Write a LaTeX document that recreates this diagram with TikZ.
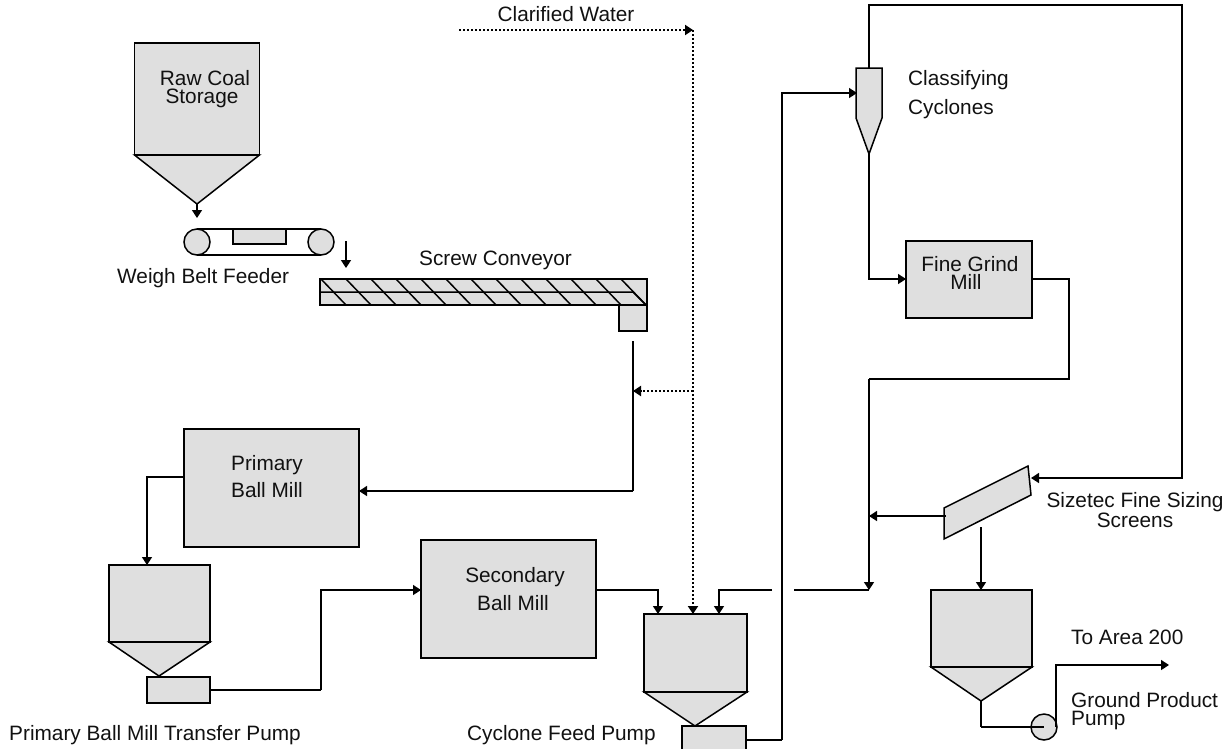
\documentclass[tikz,border=0pt]{standalone}
\usepackage{fontspec}
\setmainfont{Liberation Sans}
\usetikzlibrary{arrows.meta}
\definecolor{equip}{HTML}{DFDFDF}
\definecolor{ink}{HTML}{111111}
\tikzset{
  eq/.style={draw=black,fill=equip,line width=1.5pt,line join=miter},
  box/.style={eq,rectangle,inner sep=0pt,outer sep=0pt},
  flow/.style={draw=black,line width=1.5pt,-{Triangle[length=8pt,width=10pt]}},
  pipe/.style={draw=black,line width=1.5pt},
  dotflow/.style={draw=black,line width=2pt,dash pattern=on 2pt off 2pt,-{Triangle[length=8pt,width=10pt]}},
  lbl/.style={font=\fontsize{20.8}{24}\selectfont,text=ink,inner sep=0pt,anchor=base},
  lblw/.style={lbl,anchor=base west},
  tight/.style={inner sep=0pt,text=ink,align=center,font=\fontsize{20.8}{18}\selectfont,anchor=north},
  tightl/.style={tight,align=left,anchor=north west}
}
\begin{document}
\begin{tikzpicture}[x=1pt,y=-1pt]
\useasboundingbox (0,0) rectangle (1228,748);
\clip (0,0) rectangle (1228,748);
\coordinate (cw0) at (459,30);
\coordinate (cw1) at (693,30);
\coordinate (cwj) at (693,391);
\coordinate (cwb) at (693,614);
\coordinate (sc0) at (633,341);
\coordinate (scj) at (633,391);
\coordinate (sc1) at (633,491);
\coordinate (pb0) at (147,477);
\coordinate (pu0) at (321,690);
\coordinate (pu1) at (321,590);
\coordinate (gap0) at (772,590);
\coordinate (gap1) at (794,590);
\coordinate (join) at (869,590);
\coordinate (cy0) at (782,740);
\coordinate (cy1) at (782,93);
\coordinate (tp0) at (869,5);
\coordinate (tp1) at (1182,5);
\coordinate (tp2) at (1182,478);
\coordinate (fg0) at (1069,279);
\coordinate (fg1) at (1069,379);
\coordinate (fg2) at (869,379);
\coordinate (w0) at (346,241);
\coordinate (w1) at (346,268);
\coordinate (uf) at (869,279);
\coordinate (out0) at (1056,665);
\coordinate (out1) at (1169,665);
\coordinate (hp3a) at (981,727);
\coordinate (s0) at (981,527);
\coordinate (s1) at (946,516);
\coordinate (s2) at (869,516);
\coordinate (sbR) at (719,590);
\coordinate (sbRb) at (719,614);
\coordinate (sbL) at (658,590);
\coordinate (sbLb) at (658,614);

\node[box,minimum width=125pt,minimum height=112pt] (rawbin) at (197,99) {};
\draw[eq] (rawbin.south west) -- (197,204) -- (rawbin.south east) -- cycle;
\coordinate (rawtip) at (197,204);
\draw[flow] (rawtip) -- (197,218);
\draw[pipe] (197,229) -- (321,229) (197,255) -- (321,255);
\node[box,circle,minimum size=26pt] (wl) at (197,242) {};
\node[box,circle,minimum size=26pt] (wr) at (321,242) {};
\node[box,minimum width=53pt,minimum height=15pt] (wblock) at (259.5,236.5) {};
\draw[flow] (w0) -- (w1);
\node[box,minimum width=327pt,minimum height=26pt] (screw) at (483.5,292) {};
\node[box,minimum width=28pt,minimum height=26pt] (drop) at (633,318) {};
\draw[pipe] (320,292) -- (633,292) -- (646,305);
\foreach \k in {0,...,12}
  \draw[pipe] (321+25*\k,279) -- (346+25*\k,305);
\node[box,minimum width=175pt,minimum height=118pt] (pmill) at (271.5,488) {};
\node[box,minimum width=101pt,minimum height=77pt] (hop2) at (159.5,603.5) {};
\draw[eq] (hop2.south west) -- (159,676) -- (hop2.south east) -- cycle;
\node[box,minimum width=63pt,minimum height=26pt] (pump2) at (178.5,690) {};
\node[box,minimum width=175pt,minimum height=118pt] (smill) at (508.5,599) {};
\node[box,minimum width=103pt,minimum height=78pt] (sump) at (695.5,653) {};
\draw[eq] (sump.south west) -- (695,726) -- (sump.south east) -- cycle;
\node[box,minimum width=64pt,minimum height=26pt] (pump3) at (714,739) {};
\draw[eq] (856,68) -- (882,68) -- (882,118) -- (869,154) -- (856,118) -- cycle;
\coordinate (cyctop) at (869,68);
\coordinate (cycin) at (857,93);
\coordinate (cycbot) at (869,154);
\node[box,minimum width=126pt,minimum height=77pt] (fgm) at (969,279.5) {};
\draw[eq] (944,508) -- (1028,466) -- (1031,495) -- (944,539) -- cycle;
\coordinate (scrin) at (1031,478);
\node[box,minimum width=101pt,minimum height=77pt] (hop3) at (981.5,628.5) {};
\draw[eq] (hop3.south west) -- (981,701) -- (hop3.south east) -- cycle;
\coordinate (hop3tip) at (981,701);

\draw[dotflow] (cw0) -- (cw1);
\draw[dotflow] (cw1) -- (cwb);
\draw[dotflow] (cwj) -- (scj);
\draw[pipe] (sc0) -- (sc1);
\draw[flow] (sc1) -- (pmill.east |- sc1);
\draw[flow] (pmill.west |- pb0) -- (pb0) -- (hop2.north -| pb0);
\draw[pipe] (pump2.east) -- (pu0);
\draw[flow] (pu0) -- (pu1) -- (smill.west |- pu1);
\draw[flow] (smill.east |- sbL) -- (sbL) -- (sbLb);
\draw[flow] (gap0) -- (sbR) -- (sbRb);
\draw[pipe] (gap1) -- (join);
\draw[pipe] (pump3.east |- cy0) -- (cy0);
\draw[flow] (cy0) -- (cy1) -- (cycin);
\draw[flow] (tp0 |- cyctop) -- (tp0) -- (tp1) -- (tp2) -- (scrin);
\draw[flow] (cycbot) -- (uf) -- (fgm.west |- uf);
\draw[pipe] (fgm.east |- fg0) -- (fg0) -- (fg1) -- (fg2);
\draw[flow] (fg2) -- (join);
\draw[flow] (s1) -- (s2);
\draw[flow] (s0) -- (hop3.north -| s0);
\draw[pipe] (hop3tip) -- (hp3a);
\node[box,circle,minimum size=26pt] (gpump) at (1044,727) {};
\draw[pipe] (hp3a) -- (gpump.center);
\draw[flow] (out0 |- gpump) -- (out0) -- (out1);

\node[lbl] (t1) at (566,21) {Clarified Water};
\node[tight] (t2) at (205,70) {Raw Coal\\\hspace*{-6pt}Storage};
\node[lblw] (t4) at (117,283) {Weigh Belt Feeder};
\node[lblw] (t5) at (419,265) {Screw Conveyor};
\node[lbl] (t6) at (267,470) {Primary};
\node[lbl] (t7) at (267,497) {Ball Mill};
\node[lbl] (t8) at (515,582) {Secondary};
\node[lbl] (t9) at (513,610) {Ball Mill};
\node[lblw] (t10) at (9,740) {Primary Ball Mill Transfer Pump};
\node[lblw] (t11) at (467,740) {Cyclone Feed Pump};
\node[lblw] (t12) at (908,85) {Classifying};
\node[lblw] (t13) at (908,114) {Cyclones};
\node[tight] (t14) at (970,256) {Fine Grind\\\hspace*{-8pt}Mill};
\node[tight] (t16) at (1135,492) {Sizetec Fine Sizing\\Screens};
\node[lblw] (t18) at (1071,644) {To Area 200};
\node[tightl] (t19) at (1071,692) {Ground Product\\Pump};
\end{tikzpicture}
\end{document}
